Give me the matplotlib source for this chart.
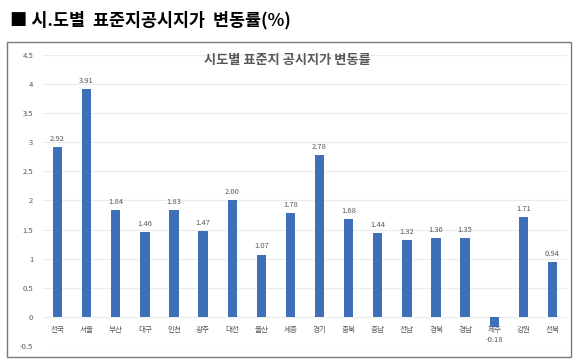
import matplotlib
matplotlib.use("Agg")
from matplotlib import pyplot as plt
from matplotlib.patches import Rectangle

plt.rcParams['font.family'] = ['Noto Sans CJK KR', 'DejaVu Sans']

regions = ['전국', '서울', '부산', '대구', '인천', '광주', '대전', '울산', '세종',
           '경기', '충북', '충남', '전남', '경북', '경남', '제주', '강원', '전북']
changeRates = [2.92, 3.91, 1.84, 1.46, 1.83, 1.47, 2.00, 1.07, 1.78,
               2.78, 1.68, 1.44, 1.32, 1.36, 1.35, -0.18, 1.71, 0.94]
yTicks = [-0.5, 0, 0.5, 1, 1.5, 2, 2.5, 3, 3.5, 4, 4.5]

W, H = 580, 364
barColor = '#3D70B6'
textGray = '#595959'

fig = plt.figure(figsize=(W / 100, H / 100), dpi=100)

# page heading above the chart box
fig.text(10 / W, 1 - 20 / H, '■ 시.도별  표준지공시지가  변동률(%)', fontsize=12.5,
         fontweight='bold', color='black', va='center', ha='left')

# outer chart border
fig.patches.append(Rectangle((7 / W, 1 - 357 / H), (571 - 7) / W, (357 - 42) / H,
                             transform=fig.transFigure, fill=False,
                             edgecolor='#7a7a7a', linewidth=1.0))

ax = fig.add_axes([43 / W, 1 - 346 / H, (567 - 43) / W, (346 - 55) / H])
xs = list(range(len(regions)))
ax.bar(xs, changeRates, width=0.32, color=barColor, zorder=3)
ax.set_xlim(-0.5, len(regions) - 0.5)
ax.set_ylim(-0.5, 4.5)
ax.set_yticks(yTicks)
ax.set_yticklabels([f'{t:g}' for t in yTicks], fontsize=5.5, color=textGray)
ax.tick_params(axis='y', length=0, pad=7)
ax.set_xticks([])
ax.grid(axis='y', color='#ececec', linewidth=0.8, zorder=0)
for s in ax.spines.values():
    s.set_visible(False)

# category labels sit just under the zero line
for x, name in zip(xs, regions):
    ax.annotate(name, (x, 0), xytext=(0, -6.5), textcoords='offset points',
                ha='center', va='top', fontsize=5.5, color=textGray, zorder=2)

# value labels
for x, v in zip(xs, changeRates):
    if v >= 0:
        ax.annotate(f'{v:.2f}', (x, v), xytext=(0, 3), textcoords='offset points',
                    ha='center', va='bottom', fontsize=5.5, color=textGray)
    else:
        # negative label goes just under the category name
        ax.annotate(f'{v:.2f}', (x, 0), xytext=(0, -14), textcoords='offset points',
                    ha='center', va='top', fontsize=5.5, color=textGray, zorder=4)

fig.text(287 / W, 1 - 60 / H, '시도별 표준지 공시지가 변동률', fontsize=9.5,
         fontweight='bold', color=textGray, ha='center', va='center')

fig.savefig('out.png', dpi=100)
